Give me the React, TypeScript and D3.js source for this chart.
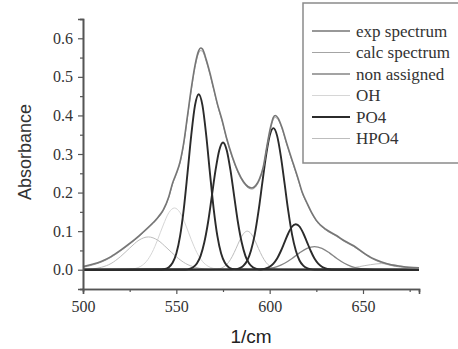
import React, { useEffect, useRef } from 'react';
import * as d3 from 'd3';

type Pt = [number, number];

// wavenumber (1/cm), absorbance
const expSpectrum: Pt[] = [
  [500, 0.008], [505, 0.014], [510, 0.022], [515, 0.034], [520, 0.05], [525, 0.068],
  [530, 0.088], [535, 0.11], [540, 0.135], [543, 0.155], [546, 0.19], [548, 0.225],
  [550, 0.25], [552, 0.28], [554, 0.33], [556, 0.4], [558, 0.47], [560, 0.53],
  [562, 0.568], [563, 0.575], [564, 0.572], [566, 0.545], [568, 0.51], [570, 0.47],
  [572, 0.43], [574.5, 0.388], [577, 0.34], [580, 0.293], [583, 0.255], [586, 0.228],
  [588.5, 0.215], [590.5, 0.212], [592.5, 0.218], [594.5, 0.235], [596.5, 0.265],
  [598.5, 0.32], [600.5, 0.37], [602, 0.395], [603, 0.4], [604.5, 0.393], [606.5, 0.37],
  [609, 0.33], [612.5, 0.277], [615, 0.24], [617.5, 0.2], [620, 0.173], [622.5, 0.148],
  [625, 0.128], [630, 0.105], [636, 0.088], [640, 0.075], [645, 0.062], [650, 0.045],
  [655, 0.03], [660, 0.02], [665, 0.013], [670, 0.009], [675, 0.006], [680, 0.005],
];

const calcSpectrum: Pt[] = [
  [500, 0.006], [505, 0.012], [510, 0.02], [515, 0.032], [520, 0.048], [525, 0.066],
  [530, 0.086], [535, 0.108], [540, 0.133], [543, 0.153], [546, 0.188], [548, 0.222],
  [550, 0.247], [552, 0.277], [554, 0.326], [556, 0.395], [558, 0.464], [560, 0.524],
  [562, 0.562], [563, 0.568], [564, 0.566], [566, 0.54], [568, 0.506], [570, 0.467],
  [572, 0.427], [574.5, 0.385], [577, 0.337], [580, 0.29], [583, 0.252], [586, 0.225],
  [588.5, 0.212], [590.5, 0.209], [592.5, 0.215], [594.5, 0.232], [596.5, 0.262],
  [598.5, 0.316], [600.5, 0.365], [602, 0.39], [603, 0.395], [604.5, 0.389], [606.5, 0.367],
  [609, 0.327], [612.5, 0.274], [615, 0.237], [617.5, 0.198], [620, 0.171], [622.5, 0.146],
  [625, 0.126], [630, 0.103], [636, 0.086], [640, 0.073], [645, 0.06], [650, 0.043],
  [655, 0.028], [660, 0.018], [665, 0.011], [670, 0.007], [675, 0.005], [680, 0.004],
];

const nonAssigned: Pt[] = [
  [500, 0], [592, 0.0004], [596, 0.0012], [600, 0.0034], [604, 0.0081], [608, 0.0167],
  [612, 0.029], [616, 0.0436], [620, 0.0554], [624, 0.06], [628, 0.0554], [632, 0.0436],
  [636, 0.029], [640, 0.0167], [644, 0.0081], [648, 0.0034], [652, 0.0012], [656, 0.0004],
  [680, 0],
];

const ohBand: Pt[] = [
  [500, 0], [522, 0.0002], [525, 0.001], [528, 0.0032], [531, 0.009], [534, 0.0216],
  [537, 0.0445], [540, 0.078], [543, 0.116], [546, 0.148], [549, 0.16], [552, 0.148],
  [555, 0.116], [558, 0.078], [561, 0.0445], [564, 0.0216], [567, 0.009], [570, 0.0032],
  [573, 0.001], [576, 0.0002], [680, 0],
];

const po4Band1: Pt[] = [
  [500, 0], [540, 0.0005], [544, 0.002], [546, 0.0066], [548, 0.018], [550, 0.042],
  [552, 0.087], [554, 0.158], [556, 0.251], [558, 0.349], [560, 0.426], [562, 0.455],
  [564, 0.426], [566, 0.349], [568, 0.251], [570, 0.158], [572, 0.087], [574, 0.042],
  [576, 0.018], [578, 0.0066], [580, 0.002], [584, 0.0005], [680, 0],
];

const po4Band2: Pt[] = [
  [500, 0], [555, 0.0007], [557, 0.0022], [559, 0.0064], [561, 0.016], [563, 0.036],
  [565, 0.071], [567, 0.123], [569, 0.19], [571, 0.258], [573, 0.31], [575, 0.33],
  [577, 0.31], [579, 0.258], [581, 0.19], [583, 0.123], [585, 0.071], [587, 0.036],
  [589, 0.016], [591, 0.0064], [593, 0.0022], [595, 0.0007], [680, 0],
];

const po4Band3: Pt[] = [
  [500, 0], [580, 0.0004], [582, 0.0014], [584, 0.004], [586, 0.0106], [588, 0.024],
  [590, 0.05], [592, 0.091], [594, 0.151], [596, 0.223], [598, 0.294], [600, 0.347],
  [602, 0.367], [604, 0.347], [606, 0.294], [608, 0.223], [610, 0.151], [612, 0.091],
  [614, 0.05], [616, 0.024], [618, 0.0106], [620, 0.004], [622, 0.0014], [624, 0.0004],
  [680, 0],
];

const po4Band4: Pt[] = [
  [500, 0], [594, 0.0005], [596, 0.0013], [598, 0.0034], [600, 0.0078], [602, 0.016],
  [604, 0.029], [606, 0.0485], [608, 0.0716], [610, 0.0945], [612, 0.112], [614, 0.118],
  [616, 0.112], [618, 0.0945], [620, 0.0716], [622, 0.0485], [624, 0.029], [626, 0.016],
  [628, 0.0078], [630, 0.0034], [632, 0.0013], [634, 0.0005], [680, 0],
];

const hpo4Band1: Pt[] = [
  [500, 0.0005], [505, 0.002], [510, 0.0065], [515, 0.016], [520, 0.0336], [525, 0.056],
  [530, 0.0767], [535, 0.085], [540, 0.0767], [545, 0.056], [550, 0.0336], [555, 0.016],
  [560, 0.0065], [565, 0.002], [570, 0.0005], [680, 0],
];

const hpo4Band2: Pt[] = [
  [500, 0], [568, 0.0001], [570, 0.0005], [572, 0.0015], [574, 0.0039], [576, 0.0093],
  [578, 0.0192], [580, 0.0348], [582, 0.0551], [584, 0.0768], [586, 0.0936], [588, 0.1],
  [590, 0.0936], [592, 0.0768], [594, 0.0551], [596, 0.0348], [598, 0.0192], [600, 0.0093],
  [602, 0.0039], [604, 0.0015], [606, 0.0005], [608, 0.0001], [680, 0],
];

const hpo4Band3: Pt[] = [
  [500, 0], [636, 0.0004], [642, 0.003], [648, 0.008], [654, 0.013], [660, 0.016],
  [666, 0.013], [672, 0.008], [678, 0.003], [680, 0.002],
];

const legendLabels = ['exp spectrum', 'calc spectrum', 'non assigned', 'OH', 'PO4', 'HPO4'];
const xTicks = [500, 550, 600, 650];
const yTicks = [0, 0.1, 0.2, 0.3, 0.4, 0.5, 0.6];

const styles: Record<string, { stroke: string; width: number }> = {
  'exp spectrum': { stroke: '#767676', width: 1.6 },
  'calc spectrum': { stroke: '#a4a4a4', width: 1 },
  'non assigned': { stroke: '#858585', width: 1.3 },
  OH: { stroke: '#d6d6d6', width: 1 },
  PO4: { stroke: '#2b2b2b', width: 1.9 },
  HPO4: { stroke: '#bdbdbd', width: 1 },
};

const App = () => {
  const svgRef = useRef<SVGSVGElement | null>(null);

  useEffect(() => {
    const width = 458;
    const height = 349;
    const svg = d3.select(svgRef.current);
    svg.selectAll('*').remove();

    const x = d3.scaleLinear().domain([500, 680]).range([83, 419]);
    const y = d3.scaleLinear().domain([-0.05, 0.65]).range([289, 19]);
    const serif = '"Liberation Serif", "Times New Roman", serif';
    const sans = '"Liberation Sans", Arial, sans-serif';

    svg.append('rect').attr('width', width).attr('height', height).attr('fill', '#fff');

    const line = d3.line<Pt>()
      .x(d => x(d[0]))
      .y(d => y(d[1]))
      .curve(d3.curveMonotoneX);

    const series: [string, Pt[]][] = [
      ['OH', ohBand],
      ['HPO4', hpo4Band1],
      ['HPO4', hpo4Band2],
      ['HPO4', hpo4Band3],
      ['non assigned', nonAssigned],
      ['PO4', po4Band1],
      ['PO4', po4Band2],
      ['PO4', po4Band3],
      ['PO4', po4Band4],
      ['calc spectrum', calcSpectrum],
      ['exp spectrum', expSpectrum],
    ];

    series.forEach(([name, pts]) => {
      svg.append('path')
        .datum(pts)
        .attr('fill', 'none')
        .attr('stroke', styles[name].stroke)
        .attr('stroke-width', styles[name].width)
        .attr('d', line);
    });

    // axes (Origin style: left + bottom only, ticks outward)
    const axisColor = '#555';
    const yAxis = svg.append('g').attr('transform', `translate(${x(500)},0)`);
    yAxis.call(
      d3.axisLeft(y).tickValues(yTicks).tickSize(5).tickPadding(5)
        .tickFormat(d => d3.format('.1f')(d as number))
    );
    yAxis.append('g').call(
      d3.axisLeft(y).tickValues(d3.range(-0.05, 0.66, 0.1)).tickSize(3).tickFormat(() => '')
    );

    const xAxis = svg.append('g').attr('transform', `translate(0,${y(-0.05)})`);
    xAxis.call(d3.axisBottom(x).tickValues(xTicks).tickSize(5).tickPadding(7));
    xAxis.append('g').call(
      d3.axisBottom(x).tickValues([525, 575, 625, 675]).tickSize(3).tickFormat(() => '')
    );

    svg.selectAll('.domain').attr('stroke', axisColor).attr('stroke-width', 1.6);
    svg.selectAll('.tick line').attr('stroke', axisColor).attr('stroke-width', 1.2);
    [yAxis, xAxis].forEach(a => a.attr('font-family', serif).attr('font-size', 16));
    svg.selectAll('.tick text')
      .attr('fill', '#333')
      .attr('font-family', serif)
      .style('font-family', serif)
      .style('font-size', '16px');

    svg.append('text')
      .attr('transform', `translate(31,152) rotate(-90)`)
      .attr('text-anchor', 'middle')
      .style('font-family', sans)
      .style('font-size', '18px')
      .attr('fill', '#333')
      .text('Absorbance');

    svg.append('text')
      .attr('x', 251)
      .attr('y', 343)
      .attr('text-anchor', 'middle')
      .style('font-family', sans)
      .style('font-size', '19px')
      .attr('fill', '#222')
      .text('1/cm');

    // legend
    const legend = svg.append('g');
    legend.append('rect')
      .attr('x', 303).attr('y', 3).attr('width', 170).attr('height', 160)
      .attr('fill', '#fff').attr('stroke', '#8a8a8a').attr('stroke-width', 1.5);

    legendLabels.forEach((name, i) => {
      const ly = 31 + i * 21.5;
      legend.append('line')
        .attr('x1', 312).attr('x2', 350).attr('y1', ly).attr('y2', ly)
        .attr('stroke', styles[name].stroke)
        .attr('stroke-width', styles[name].width);
      legend.append('text')
        .attr('x', 356).attr('y', ly)
        .attr('dominant-baseline', 'central')
        .style('font-family', serif)
        .style('font-size', '17px')
        .attr('fill', '#333')
        .text(name);
    });
  }, []);

  return (
    <svg
      ref={svgRef}
      width={458}
      height={349}
      style={{ position: 'absolute', left: 0, top: 0 }}
    />
  );
};

export default App;
